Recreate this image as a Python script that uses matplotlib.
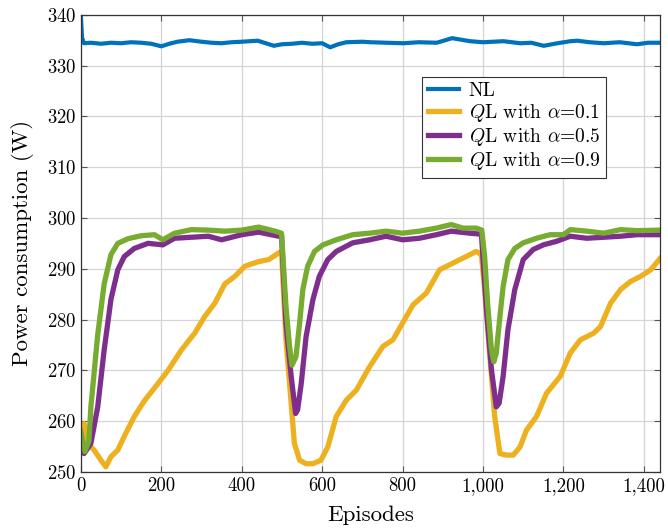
import matplotlib
matplotlib.use("Agg")
import matplotlib.pyplot as plt
from matplotlib.ticker import FuncFormatter

plt.rcParams["font.family"] = "cmr10"
plt.rcParams["mathtext.fontset"] = "cm"
plt.rcParams["axes.formatter.use_mathtext"] = True

# NL (no learning) baseline
nl_x = [0, 3, 8, 25, 50, 75, 100, 125, 150, 175, 200, 220, 240, 270, 300, 325, 350, 375,
        400, 440, 480, 500, 525, 550, 575, 600, 620, 640, 660, 700, 720, 760, 802, 840,
        885, 923, 968, 1000, 1025, 1051, 1093, 1120, 1151, 1185, 1217, 1234, 1265, 1300,
        1340, 1383, 1410, 1440]
nl_y = [340.0, 335.5, 334.4, 334.5, 334.3, 334.5, 334.4, 334.6, 334.5, 334.3, 333.8, 334.3,
        334.7, 335.0, 334.7, 334.5, 334.4, 334.6, 334.7, 334.9, 333.9, 334.2, 334.3, 334.5,
        334.3, 334.4, 333.6, 334.2, 334.6, 334.7, 334.6, 334.5, 334.4, 334.6, 334.5, 335.4,
        334.8, 334.6, 334.7, 334.8, 334.4, 334.5, 333.9, 334.4, 334.8, 334.9, 334.6, 334.4,
        334.6, 334.2, 334.5, 334.5]

# QL with alpha = 0.1
q1_x = [0, 4, 8, 17, 33, 50, 62, 75, 92, 108, 133, 158, 192, 217, 250, 283, 308, 333, 358,
        383, 408, 442, 467, 492, 499, 510, 523, 531, 544, 560, 577, 597, 614, 635, 660, 685,
        718, 751, 776, 800, 826, 859, 892, 925, 958, 983, 996, 1004, 1017, 1029, 1042, 1058,
        1075, 1092, 1108, 1133, 1158, 1192, 1217, 1242, 1275, 1292, 1317, 1342, 1367, 1392,
        1417, 1440]
q1_y = [258.0, 256.5, 259.5, 255.6, 254.3, 252.3, 251.0, 253.0, 254.3, 257.0, 260.9, 264.0,
        267.4, 270.0, 274.0, 277.3, 280.6, 283.2, 287.0, 288.5, 290.5, 291.4, 291.8, 293.1,
        293.4, 276.0, 263.5, 255.6, 252.3, 251.6, 251.6, 252.3, 254.9, 260.9, 264.1, 266.1,
        270.7, 274.7, 276.0, 279.3, 282.9, 285.2, 289.8, 291.1, 292.4, 293.4, 292.8, 285.9,
        272.7, 260.9, 253.6, 253.3, 253.3, 254.9, 258.2, 260.9, 265.5, 268.8, 273.4, 276.0,
        277.3, 278.6, 283.2, 285.9, 287.5, 288.5, 289.8, 292.0]

# QL with alpha = 0.5
q5_x = [0, 8, 25, 42, 58, 75, 92, 108, 133, 167, 204, 233, 275, 317, 350, 400, 442, 492,
        499, 510, 523, 534, 539, 548, 560, 577, 593, 614, 635, 676, 718, 759, 800, 842, 884,
        921, 967, 996, 1008, 1021, 1033, 1040, 1050, 1062, 1079, 1100, 1125, 1150, 1183,
        1217, 1258, 1300, 1342, 1383, 1440]
q5_y = [257.0, 253.6, 255.6, 262.8, 274.0, 284.0, 289.8, 292.4, 294.0, 295.0, 294.7, 296.0,
        296.2, 296.4, 295.7, 296.7, 297.2, 296.4, 296.5, 279.3, 268.8, 261.5, 262.2, 267.4,
        276.6, 283.9, 288.5, 291.8, 293.4, 295.1, 295.7, 296.4, 295.7, 296.0, 296.7, 297.4,
        297.0, 296.8, 282.6, 270.1, 262.8, 263.5, 268.8, 278.0, 285.9, 291.8, 293.8, 294.7,
        295.4, 296.4, 296.0, 296.2, 296.4, 296.7, 296.7]

# QL with alpha = 0.9
q9_x = [0, 10, 20, 25, 42, 58, 75, 92, 117, 150, 183, 204, 233, 275, 317, 358, 400, 442,
        483, 499, 510, 519, 525, 535, 544, 552, 564, 581, 602, 635, 676, 718, 759, 800, 842,
        884, 921, 950, 983, 997, 1004, 1012, 1021, 1027, 1033, 1042, 1050, 1062, 1079, 1100,
        1133, 1167, 1200, 1217, 1258, 1300, 1342, 1383, 1440]
q9_y = [258.0, 254.0, 256.0, 262.8, 277.0, 287.0, 292.8, 295.0, 295.9, 296.5, 296.7, 295.7,
        297.0, 297.7, 297.6, 297.4, 297.6, 298.2, 297.4, 297.0, 282.6, 274.7, 271.0, 272.7,
        279.3, 285.9, 290.5, 293.4, 294.7, 295.7, 296.7, 297.0, 297.4, 297.0, 297.4, 298.0,
        298.7, 298.0, 298.0, 297.6, 292.4, 282.6, 274.0, 271.7, 273.4, 280.6, 286.5, 291.8,
        294.0, 295.1, 296.0, 296.7, 296.7, 297.7, 297.4, 297.0, 297.7, 297.5, 297.6]

labels = ["NL", r"$Q$L with $\alpha$=0.1", r"$Q$L with $\alpha$=0.5", r"$Q$L with $\alpha$=0.9"]
colors = ["#0072BD", "#EDB120", "#7E2F8E", "#77AC30"]

fig = plt.figure(figsize=(6.68, 5.29), dpi=100)
ax = fig.add_axes([0.121, 0.108, 0.867, 0.864])

ax.plot(nl_x, nl_y, color=colors[0], lw=3.0, label=labels[0])
ax.plot(q1_x, q1_y, color=colors[1], lw=3.8, label=labels[1])
ax.plot(q5_x, q5_y, color=colors[2], lw=3.8, label=labels[2])
ax.plot(q9_x, q9_y, color=colors[3], lw=3.8, label=labels[3])

ax.set_xlim(0, 1440)
ax.set_ylim(250, 340)
ax.set_xticks([0, 200, 400, 600, 800, 1000, 1200, 1400])
ax.set_yticks(range(250, 341, 10))
ax.xaxis.set_major_formatter(FuncFormatter(lambda v, p: f"{v:,.0f}"))
ax.grid(True, color="#d4d4d4", lw=0.9)
ax.set_axisbelow(True)
ax.tick_params(direction="in", length=4, top=True, right=True, labelsize=13.5, color="#555555")
for s in ax.spines.values():
    s.set_color("#333333")
    s.set_linewidth(0.9)

ax.set_xlabel("Episodes", fontsize=16.5, labelpad=8)
ax.set_ylabel("Power consumption (W)", fontsize=16.5, labelpad=9)

leg = ax.legend(loc="upper left", bbox_to_anchor=(0.589, 0.865), fontsize=14,
                fancybox=False, framealpha=1, edgecolor="#333333", handlelength=1.6,
                borderpad=0.3, labelspacing=0.1, handletextpad=0.5, borderaxespad=0)
leg.get_frame().set_linewidth(0.8)

fig.savefig("out.png", dpi=100)
